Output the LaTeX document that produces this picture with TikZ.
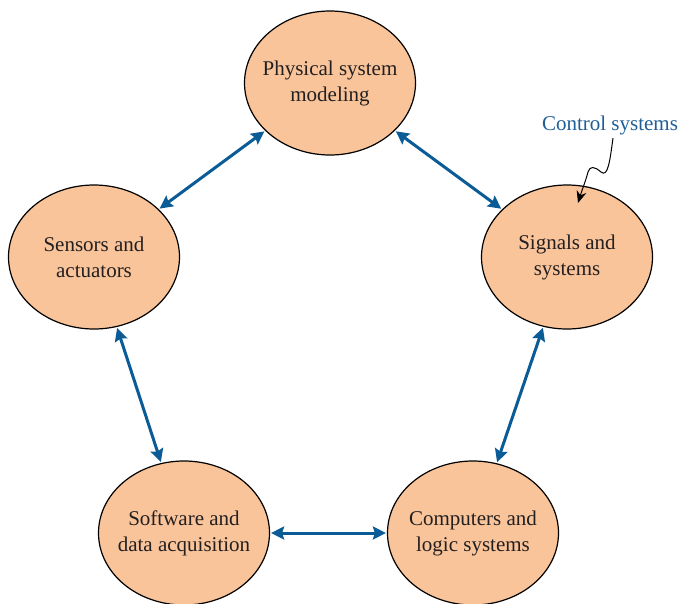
\documentclass[tikz,border=0pt]{standalone}
\usepackage{fontspec}
\setmainfont{Liberation Serif}
\usetikzlibrary{shapes.geometric,arrows.meta}
\definecolor{peach}{HTML}{F9C49A}
\definecolor{linkblue}{HTML}{0B5B96}
\definecolor{labelblue}{HTML}{1F5E96}
\definecolor{txt}{HTML}{231F20}
\tikzset{
  topic/.style={ellipse, draw=black, line width=1.2pt, fill=peach, minimum width=171pt, minimum height=144pt, inner xsep=-25pt, inner ysep=-15pt, align=center, text=txt, font=\fontsize{21}{26}\selectfont},
  link/.style={draw=linkblue, line width=3pt, {Stealth[length=13pt,width=13pt,inset=2pt]}-{Stealth[length=13pt,width=13pt,inset=2pt]}, shorten <=1pt, shorten >=1pt},
}
\begin{document}
\begin{tikzpicture}[x=1pt,y=-1pt]
\useasboundingbox (0,0) rectangle (680,603);
\node[topic] (phys) at (330,83) {Physical system\\modeling};
\node[topic] (sens) at (94,257) {Sensors and\\actuators};
\node[topic] (sig) at (567,257) {Signals and\\systems};
\node[topic] (soft) at (184,533) {Software and\\data acquisition};
\node[topic] (comp) at (473,533) {Computers and\\logic systems};
\draw[link] (phys) -- (sens);
\draw[link] (phys) -- (sig);
\draw[link] (sens) -- (soft);
\draw[link] (sig) -- (comp);
\draw[link] (soft) -- (comp);
\node[text=labelblue, font=\fontsize{21}{26}\selectfont, anchor=base] (ctrl) at (610,130) {Control systems};
\coordinate (ctip) at (578,203);
\draw[black, line width=1pt, -{Stealth[length=12pt,width=10pt]}] (613,138) .. controls (610,160) and (608,178) .. (601,172) .. controls (594,166) and (590,166) .. (588,172) .. controls (586,180) and (582,190) .. (ctip);
\end{tikzpicture}
\end{document}
